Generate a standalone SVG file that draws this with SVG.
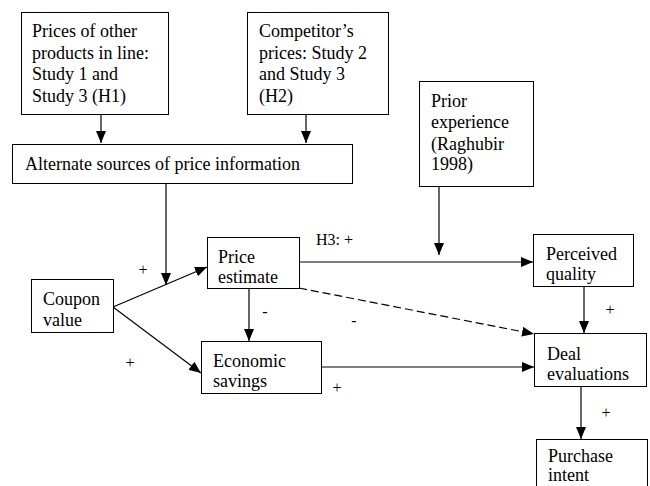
<svg xmlns="http://www.w3.org/2000/svg" width="650" height="486" viewBox="0 0 650 486">
<defs>
<style>
.box{fill:#fff;stroke:#000;stroke-width:1}
.t{font-family:"Liberation Serif","Times New Roman",serif;font-size:18px;fill:#000}
.s{font-family:"Liberation Serif","Times New Roman",serif;font-size:16px;fill:#000}
.c{stroke:#000;stroke-width:1.2;fill:none;marker-end:url(#ah)}
.d{stroke-dasharray:8 4}
</style>
<marker id="ah" markerUnits="userSpaceOnUse" markerWidth="12" markerHeight="10" refX="12" refY="5" orient="auto" viewBox="0 0 12 10">
<path d="M0,0 L12,5 L0,10 z" fill="#000"/>
</marker>
</defs>
<rect width="650" height="486" fill="#fff"/>
<g id="connectors">
<line class="c" x1="101" y1="114" x2="101" y2="143"/>
<line class="c" x1="306" y1="114" x2="306" y2="143"/>
<line class="c" x1="166" y1="183" x2="166" y2="285"/>
<line class="c" x1="113" y1="307" x2="207" y2="267"/>
<line class="c" x1="113" y1="307" x2="201" y2="373"/>
<line class="c" x1="249" y1="288" x2="249" y2="341"/>
<line class="c" x1="299" y1="262" x2="533" y2="262"/>
<line class="c" x1="439" y1="186" x2="439" y2="255"/>
<line class="c d" x1="299" y1="288" x2="534" y2="334"/>
<line class="c" x1="321" y1="367" x2="534" y2="367"/>
<line class="c" x1="584" y1="286" x2="584" y2="333"/>
<line class="c" x1="581" y1="386" x2="581" y2="439"/>
</g>
<g id="labels">
<text class="s" x="316" y="245">H3: +</text>
<text class="s" x="143" y="275" text-anchor="middle">+</text>
<text class="s" x="130" y="368" text-anchor="middle">+</text>
<text class="s" x="265" y="317" text-anchor="middle">-</text>
<text class="s" x="354" y="326" text-anchor="middle">-</text>
<text class="s" x="337" y="393" text-anchor="middle">+</text>
<text class="s" x="610" y="315" text-anchor="middle">+</text>
<text class="s" x="606" y="418" text-anchor="middle">+</text>
</g>
<g id="n-other-prices">
<rect class="box" x="21.5" y="12.5" width="147" height="102"/>
<text class="t" x="32" y="37">Prices of other</text>
<text class="t" x="32" y="59">products in line:</text>
<text class="t" x="32" y="80">Study 1 and</text>
<text class="t" x="32" y="102">Study 3 (H1)</text>
</g>
<g id="n-competitor">
<rect class="box" x="247.5" y="12.5" width="141" height="102"/>
<text class="t" x="259" y="37">Competitor’s</text>
<text class="t" x="259" y="59">prices: Study 2</text>
<text class="t" x="259" y="80">and Study 3</text>
<text class="t" x="259" y="102">(H2)</text>
</g>
<g id="n-alternate">
<rect class="box" x="12.5" y="144.5" width="340" height="39"/>
<text class="t" x="25" y="170">Alternate sources of price information</text>
</g>
<g id="n-prior">
<rect class="box" x="419.5" y="81.5" width="114" height="105"/>
<text class="t" x="431" y="107">Prior</text>
<text class="t" x="431" y="128">experience</text>
<text class="t" x="431" y="150">(Raghubir</text>
<text class="t" x="431" y="170">1998)</text>
</g>
<g id="n-price">
<rect class="box" x="207.5" y="237.5" width="92" height="51"/>
<text class="t" x="218" y="263">Price</text>
<text class="t" x="218" y="283">estimate</text>
</g>
<g id="n-coupon">
<rect class="box" x="31.5" y="279.5" width="82" height="53"/>
<text class="t" x="43" y="305">Coupon</text>
<text class="t" x="43" y="326">value</text>
</g>
<g id="n-economic">
<rect class="box" x="201.5" y="341.5" width="120" height="52"/>
<text class="t" x="213" y="367">Economic</text>
<text class="t" x="213" y="387">savings</text>
</g>
<g id="n-perceived">
<rect class="box" x="533.5" y="234.5" width="100" height="52"/>
<text class="t" x="546" y="260">Perceived</text>
<text class="t" x="546" y="280">quality</text>
</g>
<g id="n-deal">
<rect class="box" x="534.5" y="333.5" width="112" height="53"/>
<text class="t" x="547" y="360">Deal</text>
<text class="t" x="547" y="380">evaluations</text>
</g>
<g id="n-purchase">
<rect class="box" x="536.5" y="439.5" width="111" height="60"/>
<text class="t" x="548" y="462">Purchase</text>
<text class="t" x="548" y="481">intent</text>
</g>
</svg>
